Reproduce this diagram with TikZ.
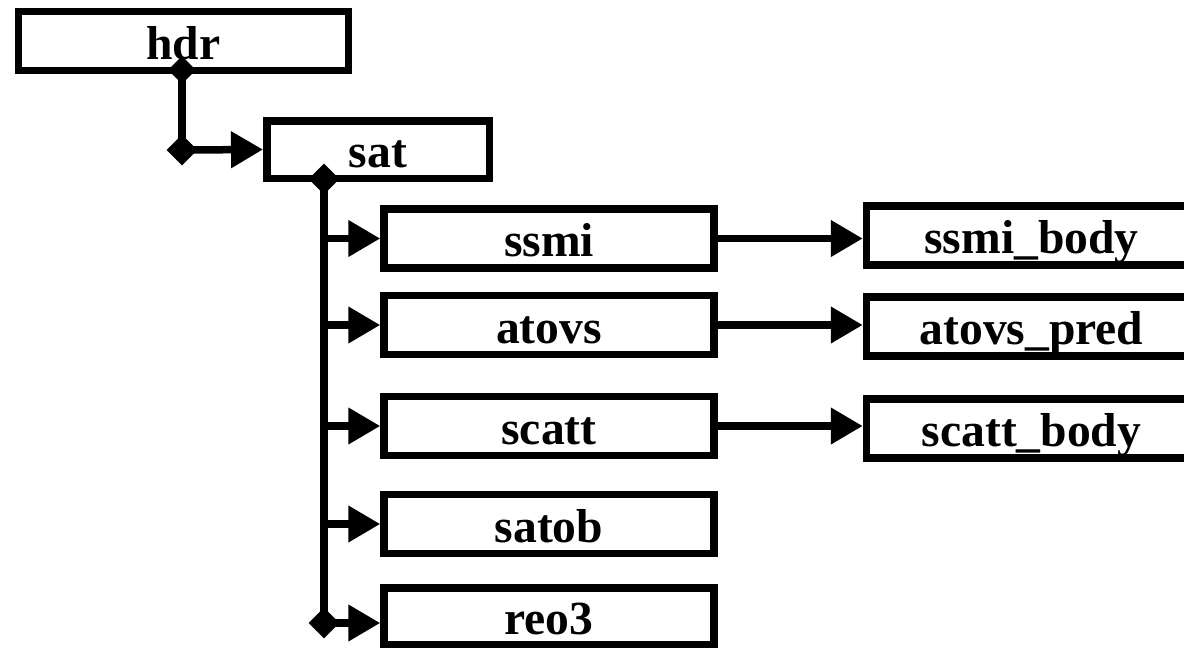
\documentclass[tikz,border=0pt]{standalone}
\usepackage{fontspec}
\setmainfont{Liberation Serif}
\usetikzlibrary{arrows.meta,shapes.geometric}

\begin{document}
\begin{tikzpicture}[x=1pt,y=-1pt,
    box/.style={draw, line width=7.5pt, minimum width=330pt, minimum height=59pt,
        inner sep=0pt, text height=36pt, text depth=0pt,
        font=\fontsize{47.6}{50}\selectfont\bfseries},
    knot/.style={diamond, fill, inner sep=0pt, minimum size=31pt},
    link/.style={line width=7.5pt},
    feed/.style={link, -{Triangle[length=32pt,width=35pt]}}]

    % Fix the page size
    \useasboundingbox (0,0) rectangle (1184,648);

    % Draw the boxes
    \node[box] (hdr) at (183.5,41) {hdr};
    \node[box, minimum width=222.5pt, minimum height=57.5pt] (sat) at (378,149.5) {sat};
    \node[box] (ssmi) at (549,238.5) {ssmi};
    \node[box] (atovs) at (549,325) {atovs};
    \node[box] (scatt) at (549,426) {scatt};
    \node[box] (satob) at (549,524) {satob};
    \node[box, minimum height=56.5pt] (reo3) at (549,616) {reo3};
    \node[box] (ssmibody) at (1031.5,235.5) {ssmi\_body};
    \node[box] (atovspred) at (1031.5,326.5) {atovs\_pred};
    \node[box] (scattbody) at (1031.5,428.5) {scatt\_body};

    % Draw the knots
    \node[knot, minimum size=28pt] (k1) at (182,70) {};
    \node[knot] (k2) at (182,150) {};
    \node[knot] (k3) at (324,179) {};
    \node[knot] (k4) at (324,623) {};

    % Draw the links
    \draw[link] (k1.center) -- (k2.center);
    \draw[feed] (k2.center) -- (sat.west);
    \draw[link] (k3.center) -- (k4.center);
    \foreach \n in {ssmi,atovs,scatt,satob}
        \draw[feed] (k3 |- \n.west) -- (\n.west);
    \draw[feed] (k4.center) -- (k4 -| reo3.west);
    \draw[feed] (ssmi.east) -- (ssmi.east -| ssmibody.west);
    \draw[feed] (atovs.east) -- (atovs.east -| atovspred.west);
    \draw[feed] (scatt.east) -- (scatt.east -| scattbody.west);
\end{tikzpicture}
\end{document}
